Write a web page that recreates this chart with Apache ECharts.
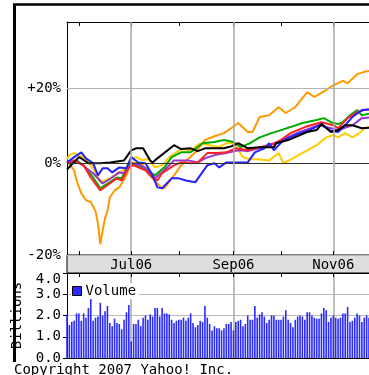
<!DOCTYPE html>
<html>
<head>
<meta charset="utf-8">
<script src="https://cdn.jsdelivr.net/npm/echarts@6/dist/echarts.min.js"></script>
<style>
  html, body { margin: 0; padding: 0; background: #fff; }
  #chart { width: 369px; height: 375px; }
</style>
</head>
<body>
<div id="chart"></div>
<script>
var FONT = 'DejaVu Sans Mono';

// trading days (2006), MM-DD, market holidays skipped
var holidays = ['05-29', '07-04', '09-04'];
function pad(n) { return n < 10 ? '0' + n : '' + n; }
var days = [];
(function () {
  var d = new Date(Date.UTC(2006, 4, 24)), end = Date.UTC(2006, 10, 22);
  while (d.getTime() <= end) {
    var wd = d.getUTCDay();
    var s = pad(d.getUTCMonth() + 1) + '-' + pad(d.getUTCDate());
    if (wd > 0 && wd < 6 && holidays.indexOf(s) < 0) days.push(s);
    d.setUTCDate(d.getUTCDate() + 1);
  }
})();

var monthLabels = { '07': 'Jul06', '09': 'Sep06', '11': 'Nov06' };
var priceTicks = [-20, 0, 20];

// % change
var orange = [['05-24', 0.5], ['05-30', -1.7], ['05-31', -4.1], ['06-02', -7.0], ['06-06', -8.6], ['06-08', -9.0],
  ['06-12', -11.0], ['06-13', -13.6], ['06-14', -17.9], ['06-15', -15.1], ['06-16', -12.5], ['06-19', -11.0],
  ['06-20', -8.0], ['06-22', -6.4], ['06-26', -5.7], ['06-29', -2.9], ['07-03', 0.2], ['07-07', 0], ['07-11', -0.5],
  ['07-13', -2.4], ['07-19', -4.8], ['07-21', -5.9], ['07-24', -5.9], ['07-28', -2.9], ['08-02', -0.5], ['08-10', 2.7],
  ['08-16', 5.8], ['08-22', 6.8], ['08-28', 7.6], ['08-31', 8.9], ['09-06', 10.3], ['09-12', 7.9], ['09-14', 7.9],
  ['09-19', 11.9], ['09-25', 12.4], ['09-29', 14.6], ['10-04', 13.0], ['10-10', 14.6], ['10-17', 18.9], ['10-20', 17.5],
  ['10-27', 19.5], ['11-01', 20.9], ['11-07', 22.2], ['11-09', 21.5], ['11-15', 24.2], ['11-20', 24.9], ['11-22', 25.2]];
var yellow = [['05-24', 1.0], ['05-25', 2.0], ['05-30', 2.5], ['06-05', 1.5], ['06-09', -1.2], ['06-14', -4.5],
  ['06-20', -3.6], ['06-26', -2.2], ['06-29', -1.2], ['07-03', 1.2], ['07-06', 1.5], ['07-11', 0.7], ['07-13', 1.2],
  ['07-18', -1.0], ['07-21', -0.5], ['07-26', 1.5], ['08-02', 3.5], ['08-08', 3.2], ['08-14', 5.0], ['08-18', 4.5],
  ['08-24', 4.0], ['08-29', 5.0], ['09-01', 5.0], ['09-08', 1.5], ['09-13', 1.0], ['09-18', 1.0], ['09-25', 0.7],
  ['09-29', 2.5], ['10-03', 0], ['10-09', 1.2], ['10-17', 3.2], ['10-23', 4.5], ['10-27', 6.5], ['11-01', 7.1],
  ['11-03', 6.5], ['11-08', 7.6], ['11-13', 6.5], ['11-16', 7.6], ['11-20', 8.9], ['11-22', 9.2]];
var green = [['05-24', 0], ['05-31', 0.7], ['06-05', -0.5], ['06-09', -3.4], ['06-14', -5.9], ['06-20', -4.5],
  ['06-23', -3.4], ['06-27', -3.6], ['06-29', -1.2], ['07-03', 0], ['07-10', -1.0], ['07-14', -2.2], ['07-18', -2.9],
  ['07-24', -1.0], ['07-27', 1.5], ['08-02', 2.7], ['08-08', 2.7], ['08-15', 5.0], ['08-22', 5.3], ['08-28', 5.8],
  ['09-01', 5.3], ['09-07', 4.0], ['09-13', 5.0], ['09-19', 6.5], ['09-26', 7.6], ['10-02', 8.4], ['10-06', 9.2],
  ['10-13', 10.3], ['10-23', 11.1], ['10-26', 11.6], ['10-31', 10.5], ['11-03', 10.0], ['11-07', 10.5],
  ['11-10', 12.4], ['11-15', 13.8], ['11-17', 12.4], ['11-22', 12.8]];
var purple = [['05-24', 0.2], ['06-01', 0.2], ['06-09', -2.4], ['06-15', -4.8], ['06-21', -3.4], ['06-26', -2.2],
  ['06-28', -2.4], ['07-03', 0], ['07-10', -0.5], ['07-13', -1.5], ['07-18', -3.6], ['07-24', -1.7], ['07-28', 0.7],
  ['08-07', 0.7], ['08-11', 0.2], ['08-16', 1.2], ['08-22', 2.0], ['08-29', 2.5], ['09-06', 3.2], ['09-12', 3.0],
  ['09-21', 4.0], ['10-02', 5.8], ['10-12', 7.9], ['10-24', 9.7], ['10-31', 8.9], ['11-03', 8.4], ['11-13', 9.7],
  ['11-17', 11.6], ['11-22', 11.8]];
var red = [['05-24', 0], ['05-30', 0.7], ['06-05', -0.5], ['06-08', -3.4], ['06-14', -6.4], ['06-20', -4.8],
  ['06-23', -3.6], ['06-27', -4.1], ['06-30', -1.0], ['07-05', -0.5], ['07-12', -1.7], ['07-17', -3.4],
  ['07-19', -4.1], ['07-21', -2.4], ['07-28', -0.5], ['08-02', 0.2], ['08-08', 0], ['08-11', 0.2], ['08-17', 2.5],
  ['08-23', 2.5], ['08-29', 2.7], ['09-05', 3.7], ['09-12', 3.2], ['09-19', 4.0], ['09-25', 4.5], ['09-28', 5.0],
  ['10-06', 7.6], ['10-16', 9.2], ['10-25', 10.5], ['11-01', 9.7], ['11-03', 8.9], ['11-09', 11.6], ['11-15', 13.2],
  ['11-20', 13.8], ['11-22', 14.0]];
var blue = [['05-24', 0.2], ['05-30', 1.5], ['06-02', 2.7], ['06-06', 1.2], ['06-09', 0], ['06-13', -2.9],
  ['06-15', -1.2], ['06-19', -1.2], ['06-21', -2.2], ['06-26', -1.0], ['06-29', -1.2], ['07-03', 1.5], ['07-07', 0.2],
  ['07-12', 0], ['07-17', -2.9], ['07-19', -5.7], ['07-21', -5.9], ['07-27', -3.6], ['08-01', -3.6], ['08-04', -4.1],
  ['08-10', -4.5], ['08-14', -2.9], ['08-17', -0.5], ['08-22', 0], ['08-24', -1.0], ['08-29', 0.2], ['09-05', 0.2],
  ['09-12', 0.2], ['09-15', 2.7], ['09-21', 3.7], ['09-25', 5.0], ['09-27', 3.2], ['10-03', 5.8], ['10-10', 7.1],
  ['10-18', 8.4], ['10-25', 10.0], ['10-31', 8.2], ['11-03', 7.9], ['11-08', 9.7], ['11-13', 11.9], ['11-17', 13.8],
  ['11-22', 14.0]];
var black = [['05-24', -1.5], ['06-01', 1.5], ['06-02', 1.2], ['06-07', 0], ['06-14', 0], ['06-20', 0.2],
  ['06-28', 0.7], ['07-03', 3.2], ['07-06', 3.7], ['07-11', 3.7], ['07-14', 0.7], ['07-17', 0.2], ['07-19', 1.2],
  ['07-28', 4.5], ['08-02', 3.5], ['08-08', 3.7], ['08-11', 3.0], ['08-16', 3.7], ['08-28', 3.7], ['08-31', 4.2],
  ['09-06', 5.0], ['09-12', 3.7], ['09-19', 4.0], ['09-27', 4.0], ['09-28', 5.0], ['10-05', 5.8], ['10-12', 7.1],
  ['10-17', 7.9], ['10-23', 8.4], ['10-25', 10.0], ['10-31', 7.9], ['11-03', 8.4], ['11-08', 9.7], ['11-13', 9.7],
  ['11-17', 8.9], ['11-22', 9.0]];

// daily volume, billions (one per trading day)
var volume = [2.05, 1.55, 1.7, 1.75, 2.1, 2.1, 1.75, 2.1, 1.9, 2.35,
  3.0, 1.75, 1.9, 1.95, 2.6, 2.0, 2.2, 2.45, 1.65, 1.5,
  1.85, 1.65, 1.6, 1.35, 1.8, 2.15, 2.5, 0.78, 1.6, 1.6,
  1.8, 1.5, 1.9, 2.0, 1.8, 2.05, 1.95, 2.35, 2.35, 1.95,
  2.35, 2.1, 2.1, 2.05, 1.8, 1.65, 1.75, 1.8, 1.8, 1.9,
  1.75, 1.9, 2.1, 1.65, 1.45, 1.55, 1.75, 1.7, 2.45, 1.9,
  1.6, 1.3, 1.5, 1.4, 1.4, 1.3, 1.4, 1.6, 1.6, 1.7,
  1.3, 1.7, 1.75, 1.8, 1.5, 1.6, 2.0, 1.8, 1.8, 2.45,
  1.9, 2.05, 2.15, 1.95, 1.65, 1.8, 2.0, 2.0, 1.8, 1.8,
  1.8, 1.95, 2.25, 1.8, 1.65, 1.45, 1.8, 1.95, 2.0, 1.95,
  1.8, 2.15, 2.15, 2.0, 1.9, 1.85, 1.85, 2.1, 2.35, 2.25,
  1.7, 1.9, 2.0, 1.9, 1.85, 1.9, 2.1, 2.1, 2.4, 1.7,
  1.75, 1.9, 2.1, 2.0, 1.7, 1.9, 2.0, 1.9];
var volumeTicks = [0, 1, 2, 3, 4];

function isMonthStart(i) { return i > 0 && days[i].slice(0, 2) !== days[i - 1].slice(0, 2); }
function isLabelled(i) { return isMonthStart(i) && !!monthLabels[days[i].slice(0, 2)]; }
function toRatio(pts) { return pts.map(function (p) { return [p[0], 1 + p[1] / 100]; }); }

var chart = echarts.init(document.getElementById('chart'), null, { renderer: 'canvas' });

var lineDefs = [
  ['orange', orange, '#ff9900'],
  ['yellow', yellow, '#ffcc00'],
  ['green', green, '#00aa00'],
  ['purple', purple, '#9933cc'],
  ['red', red, '#ff2222'],
  ['blue', blue, '#2222ff'],
  ['black', black, '#000000']
];

var series = [{
  // grid lines at -20 / 0 / +20 %
  type: 'line', xAxisIndex: 0, yAxisIndex: 0, data: [], z: 1, silent: true,
  markLine: {
    symbol: 'none', silent: true, animation: false,
    data: priceTicks.map(function (t) {
      return {
        yAxis: 1 + t / 100,
        lineStyle: { color: t === 0 ? '#333' : '#b4b4b4', width: 1, type: 'solid' },
        label: { formatter: (t > 0 ? '+' : '') + t + '%' }
      };
    }),
    label: { position: 'start', distance: 6, color: '#000', fontFamily: FONT, fontSize: 14 }
  }
}];
lineDefs.forEach(function (d) {
  series.push({
    name: d[0], type: 'line', xAxisIndex: 0, yAxisIndex: 0, symbol: 'none',
    data: toRatio(d[1]), lineStyle: { color: d[2], width: 2 }, itemStyle: { color: d[2] }
  });
});
series.push({
  name: 'Volume', type: 'bar', xAxisIndex: 2, yAxisIndex: 1, data: volume,
  barWidth: 1.6, itemStyle: { color: '#2a2aff' }
});

function monthAxis(grid, pos, opts) {
  return Object.assign({
    type: 'category', gridIndex: grid, position: pos, data: days, boundaryGap: false,
    axisLine: { show: true, lineStyle: { color: '#000', width: 1 } },
    axisTick: { show: true, inside: true, length: 4, interval: function (i) { return isMonthStart(i); },
      lineStyle: { color: '#000' } },
    axisLabel: { show: false },
    splitLine: { show: false }
  }, opts || {});
}

var option = {
  animation: false,
  grid: [
    { left: 67, top: 22, width: 307, height: 233 },
    { left: 67, top: 273, width: 307, height: 85 }
  ],
  legend: {
    data: ['Volume'], left: 71, top: 283, icon: 'rect', itemWidth: 9, itemHeight: 9, itemGap: 4,
    backgroundColor: '#fff', padding: [1, 3, 1, 1],
    itemStyle: { borderColor: '#000', borderWidth: 1 },
    textStyle: { fontFamily: FONT, fontSize: 14, color: '#000', padding: [0, 0, 0, -1] }
  },
  xAxis: [
    monthAxis(0, 'bottom', {
      z: 10,
      axisLine: { show: false },
      axisLabel: {
        show: true, margin: 3, color: '#000', fontFamily: FONT, fontSize: 14,
        interval: function (i) { return isLabelled(i); },
        formatter: function (v) { return monthLabels[v.slice(0, 2)] || ''; }
      },
      splitLine: { show: true, interval: function (i) { return isLabelled(i); },
        lineStyle: { color: '#aaa', width: 1.5 } }
    }),
    monthAxis(0, 'top'),
    monthAxis(1, 'bottom', {
      axisTick: { show: false },
      splitLine: { show: true, interval: function (i) { return isLabelled(i); },
        lineStyle: { color: '#aaa', width: 1.5 } }
    }),
    monthAxis(1, 'top', { z: 10 })
  ],
  yAxis: [
    {
      type: 'log', gridIndex: 0, logBase: 10, min: 0.8, max: 1.41,
      axisLine: { show: true, lineStyle: { color: '#000', width: 1 } },
      axisTick: { show: false }, axisLabel: { show: false }, splitLine: { show: false }
    },
    {
      type: 'value', gridIndex: 1, min: volumeTicks[0], max: volumeTicks[volumeTicks.length - 1], interval: 1,
      name: 'Billions', nameLocation: 'middle', nameGap: 22, nameRotate: 90,
      nameTextStyle: { fontFamily: FONT, fontSize: 14, color: '#000' },
      axisLine: { show: true, lineStyle: { color: '#000', width: 1 } },
      axisTick: { show: true, length: 4, lineStyle: { color: '#000' } },
      axisLabel: {
        margin: 6, color: '#000', fontFamily: FONT, fontSize: 14,
        formatter: function (v) { return v === 4 ? '{top|4.0}' : v.toFixed(1); },
        rich: { top: { fontFamily: FONT, fontSize: 14, color: '#000', padding: [12, 0, 0, 0] } }
      },
      splitLine: { show: true, lineStyle: { color: '#bbb', width: 1 } }
    }
  ],
  graphic: [
    { type: 'rect', z: 1, shape: { x: 67, y: 255, width: 320, height: 18 },
      style: { fill: '#dedede', stroke: '#000', lineWidth: 1 } },
    { type: 'line', z: 20, shape: { x1: 13, y1: 4.5, x2: 369, y2: 4.5 }, style: { stroke: '#000', lineWidth: 2.5 } },
    { type: 'line', z: 20, shape: { x1: 14.5, y1: 4, x2: 14.5, y2: 362 }, style: { stroke: '#000', lineWidth: 3 } },
    { type: 'text', z: 20, left: 14, top: 363,
      style: { text: 'Copyright 2007 Yahoo! Inc.', fill: '#000', font: '14px "DejaVu Sans Mono"' } }
  ],
  series: series
};

chart.setOption(option);
</script>
</body>
</html>
